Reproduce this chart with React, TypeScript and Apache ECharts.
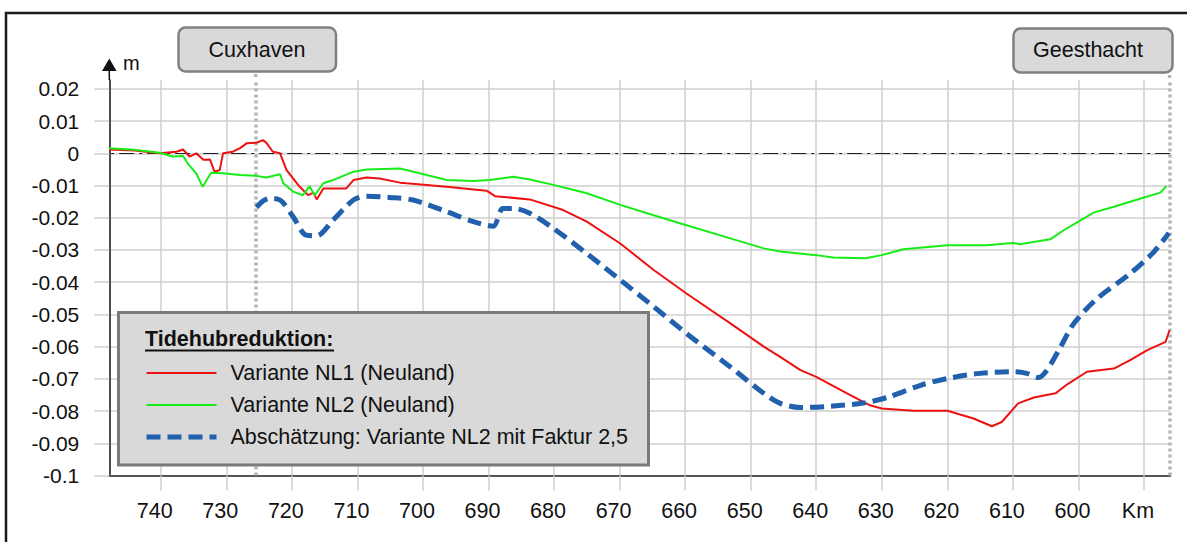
import React, { useEffect, useRef } from "react";
import * as echarts from "echarts";

// ---- data (km, metres) ----
const kmTicks = [740, 730, 720, 710, 700, 690, 680, 670, 660, 650, 640, 630, 620, 610, 600, 590];
const yTicks = [-0.1, -0.09, -0.08, -0.07, -0.06, -0.05, -0.04, -0.03, -0.02, -0.01, 0, 0.01, 0.02];

const seriesNames = [
  "Variante NL1 (Neuland)",
  "Variante NL2 (Neuland)",
  "Abschätzung: Variante NL2 mit Faktur 2,5",
];

const nl1: [number, number][] = [
  [747.9, 0.0012], [744, 0.0009], [740.2, 0], [737.6, 0.0005], [736.6, 0.0012], [735.6, -0.001],
  [734.6, 0], [733.5, -0.002], [732.5, -0.0019], [731.8, -0.0057], [731, -0.0052], [730.5, 0],
  [729, 0.0005], [727.9, 0.0016], [726.9, 0.0031], [725.4, 0.0033], [724.4, 0.0041], [723.9, 0.0033],
  [722.9, 0.0005], [721.8, 0], [720.8, -0.0052], [718.8, -0.0104], [717.5, -0.013], [716.7, -0.0122],
  [716.2, -0.0143], [715.2, -0.0109], [713.7, -0.0109], [711.7, -0.0109], [710.6, -0.0083],
  [708.6, -0.0075], [706.6, -0.0078], [703.5, -0.0091], [702.5, -0.0093], [696.4, -0.0104],
  [690.3, -0.0116], [689, -0.0133], [683.7, -0.0143], [678.6, -0.0176], [675, -0.0212],
  [669.9, -0.028], [664.8, -0.0362], [659.8, -0.0435], [653.1, -0.0528], [648, -0.06],
  [645.5, -0.0632], [642.4, -0.0673], [640, -0.0694], [635.3, -0.0745], [631.8, -0.0782],
  [630, -0.0792], [625.2, -0.0799], [620, -0.0799], [616, -0.0823], [613.2, -0.0847],
  [611.7, -0.0834], [609.2, -0.0776], [606.8, -0.0758], [603.5, -0.0745], [601.7, -0.0717],
  [598.7, -0.0678], [594.6, -0.0668], [592.1, -0.0642], [589.5, -0.0611], [586.7, -0.0585],
  [586.1, -0.0549],
];

const nl2: [number, number][] = [
  [747.9, 0.0016], [744, 0.0011], [740.2, 0.0002], [738.2, -0.001], [736.6, -0.0008], [735.9, -0.0031],
  [734.6, -0.0062], [733.6, -0.0104], [733, -0.0083], [732.3, -0.006], [730.5, -0.0062],
  [727.9, -0.0067], [725.4, -0.007], [723.9, -0.0075], [721.8, -0.0065], [721.3, -0.0093],
  [719.8, -0.0119], [718.3, -0.013], [717.3, -0.0102], [716.5, -0.013], [715.2, -0.0093],
  [713.7, -0.0083], [710.6, -0.0057], [708.6, -0.005], [703.5, -0.0047], [700.5, -0.0062],
  [696.4, -0.0083], [692.3, -0.0086], [689.8, -0.0083], [686.2, -0.0073], [683.7, -0.0081],
  [680.1, -0.0098], [675, -0.0124], [669.9, -0.016], [664.8, -0.0192], [659.8, -0.0223],
  [653.1, -0.0264], [648, -0.0295], [645.5, -0.0305], [640, -0.0316], [637.4, -0.0323],
  [632.5, -0.0326], [630, -0.0316], [626.7, -0.0298], [620, -0.0285], [614, -0.0285],
  [610, -0.0278], [608.9, -0.0282], [604.3, -0.0267], [602.2, -0.0238], [600, -0.0212],
  [597.7, -0.0184], [594.6, -0.0166], [590, -0.0137], [587.5, -0.0122], [586.6, -0.0102],
];

const estimate: [number, number][] = [
  [725.4, -0.0168], [724.4, -0.0148], [723.4, -0.014], [721.8, -0.0145], [719.8, -0.0197],
  [717.8, -0.0254], [716.2, -0.0256], [713.7, -0.0207], [710.6, -0.0145], [708.6, -0.0133],
  [705.1, -0.0137], [701.5, -0.0145], [696.4, -0.0181], [692.3, -0.0212], [689.3, -0.0226],
  [687.8, -0.0171], [686.2, -0.0171], [683.7, -0.0186], [680.1, -0.0233], [675, -0.0311],
  [669.9, -0.0393], [664.8, -0.0476], [659.8, -0.0559], [653.1, -0.0663], [648, -0.0745],
  [645.5, -0.0776], [642.4, -0.0789], [637.8, -0.0785], [632.8, -0.0775], [629.2, -0.0758],
  [624.1, -0.072], [620, -0.0699], [615, -0.0683], [609.9, -0.0678], [607.9, -0.0683],
  [606.1, -0.0696], [604.8, -0.0673], [602.7, -0.06], [600.7, -0.0528], [597.1, -0.045],
  [592.1, -0.0373], [588.5, -0.0306], [586.2, -0.0247],
];

const stations = [
  { name: "Cuxhaven", km: 725.5 },
  { name: "Geesthacht", km: 586.1 },
];

const FONT = "'Liberation Sans', Arial, Helvetica, sans-serif";

export default function App() {
  const ref = useRef<HTMLDivElement>(null);

  useEffect(() => {
    if (!ref.current) return;
    const chart = echarts.init(ref.current, undefined, { renderer: "svg" });
    const gridLeft = 109.3;
    const gridTop = 80;
    const gridW = 1060.9;
    const gridH = 395.5;
    const gridColor = "#cfcfcf";

    chart.setOption({
      animation: false,
      backgroundColor: "#ffffff",
      textStyle: { fontFamily: FONT },
      grid: { left: gridLeft, top: gridTop, width: gridW, height: gridH, containLabel: false },
      xAxis: {
        type: "value",
        inverse: true,
        min: 586,
        max: 747.85,
        axisLine: { onZero: false, lineStyle: { color: "#555555", width: 2 } },
        axisTick: { show: true, length: 15, lineStyle: { color: gridColor, width: 1.5 }, customValues: kmTicks },
        splitLine: { show: true, lineStyle: { color: gridColor, width: 1.5 } },
        axisLabel: {
          customValues: kmTicks,
          margin: 24,
          fontSize: 21.5,
          color: "#111",
          fontFamily: FONT,
          padding: [0, 12, 0, 0],
          formatter: (v: number) => (v === 590 ? "Km" : String(v)),
        },
      },
      yAxis: {
        type: "value",
        min: -0.1,
        max: 0.02276,
        axisLine: { show: true, onZero: false, lineStyle: { color: "#111111", width: 1.5 } },
        axisTick: { show: true, length: 15, lineStyle: { color: gridColor, width: 1.5 }, customValues: yTicks },
        splitLine: { show: true, lineStyle: { color: gridColor, width: 1.5 } },
        axisLabel: {
          customValues: yTicks,
          margin: 30,
          fontSize: 21,
          color: "#111",
          fontFamily: FONT,
          formatter: (v: number) => String(Math.round(v * 100) / 100),
        },
      },
      legend: {
        data: seriesNames,
        orient: "vertical",
        left: 144,
        top: 362,
        itemWidth: 70,
        itemHeight: 21,
        itemGap: 10,
        padding: 0,
        z: 20,
        selectedMode: false,
        itemStyle: { opacity: 0 },
        lineStyle: { width: "inherit", type: "inherit" },
        textStyle: { fontSize: 21.5, color: "#111", fontFamily: FONT, padding: [0, 0, 0, 9] },
      },
      series: [
        {
          name: seriesNames[0],
          type: "line",
          data: nl1,
          showSymbol: false,
          symbol: "none",
          lineStyle: { color: "#ee1111", width: 2 },
          itemStyle: { color: "#ee1111" },
          z: 3,
          markLine: {
            silent: true,
            symbol: "none",
            label: { show: false },
            z: 1,
            data: [
              { yAxis: 0, lineStyle: { color: "#222222", width: 1.2, type: [15, 5, 3, 5] } },
              ...stations.map((s) => ({
                xAxis: s.km,
                lineStyle: { color: "#b5b5b5", width: 3.5, type: [3, 3] },
              })),
            ],
          },
        },
        {
          name: seriesNames[1],
          type: "line",
          data: nl2,
          showSymbol: false,
          symbol: "none",
          lineStyle: { color: "#18ec18", width: 2 },
          itemStyle: { color: "#18ec18" },
          z: 3,
        },
        {
          name: seriesNames[2],
          type: "line",
          data: estimate,
          showSymbol: false,
          symbol: "none",
          smooth: 0.3,
          lineStyle: { color: "#2160ad", width: 5, type: [14, 7] },
          itemStyle: { color: "#2160ad" },
          z: 4,
        },
      ],
      graphic: [
        // outer frame
        {
          type: "rect",
          silent: true,
          z: 30,
          shape: { x: 6, y: 13, width: 1200, height: 560 },
          style: { fill: "none", stroke: "#1a1a1a", lineWidth: 2.5 },
        },
        // station boxes
        {
          type: "rect",
          silent: true,
          z: 12,
          shape: { x: 178.5, y: 27.5, width: 157.5, height: 44, r: 7 },
          style: { fill: "#d9d9d9", stroke: "#808080", lineWidth: 2.5 },
        },
        {
          type: "text",
          silent: true,
          z: 13,
          x: 257,
          y: 49.5,
          style: { text: stations[0].name, fill: "#111", font: `21.5px ${FONT}`, align: "center", verticalAlign: "middle" },
        },
        {
          type: "rect",
          silent: true,
          z: 12,
          shape: { x: 1013.5, y: 28.5, width: 159, height: 44, r: 7 },
          style: { fill: "#d9d9d9", stroke: "#808080", lineWidth: 2.5 },
        },
        {
          type: "text",
          silent: true,
          z: 13,
          x: 1088,
          y: 50,
          style: { text: stations[1].name, fill: "#111", font: `21.5px ${FONT}`, align: "center", verticalAlign: "middle" },
        },
        // dotted extensions above the plot
        {
          type: "line",
          silent: true,
          z: 5,
          shape: { x1: 255.7, y1: 74, x2: 255.7, y2: 80 },
          style: { stroke: "#b5b5b5", lineWidth: 3.5, lineDash: [3, 3] },
        },
        {
          type: "line",
          silent: true,
          z: 5,
          shape: { x1: 1169.6, y1: 75, x2: 1169.6, y2: 80 },
          style: { stroke: "#b5b5b5", lineWidth: 3.5, lineDash: [3, 3] },
        },
        // y axis extension + arrow
        {
          type: "line",
          silent: true,
          z: 5,
          shape: { x1: gridLeft, y1: gridTop, x2: gridLeft, y2: 68 },
          style: { stroke: "#111", lineWidth: 1.5 },
        },
        {
          type: "polygon",
          silent: true,
          z: 5,
          shape: { points: [[gridLeft, 58.5], [gridLeft - 7.3, 71], [gridLeft + 7.3, 71]] },
          style: { fill: "#111" },
        },
        {
          type: "text",
          silent: true,
          z: 5,
          x: 123,
          y: 63,
          style: { text: "m", fill: "#111", font: `20px ${FONT}`, align: "left", verticalAlign: "middle" },
        },
        // legend box
        {
          type: "rect",
          silent: true,
          z: 10,
          shape: { x: 118.5, y: 312.5, width: 530, height: 152.5 },
          style: { fill: "#d9d9d9", stroke: "#7a7a7a", lineWidth: 3 },
        },
        {
          type: "text",
          silent: true,
          z: 21,
          x: 145,
          y: 339,
          style: { text: "Tidehubreduktion:", fill: "#111", font: `bold 21.5px ${FONT}`, align: "left", verticalAlign: "middle" },
        },
        {
          type: "line",
          silent: true,
          z: 21,
          shape: { x1: 145, y1: 350.5, x2: 334, y2: 350.5 },
          style: { stroke: "#111", lineWidth: 2 },
        },
      ],
    });

    return () => chart.dispose();
  }, []);

  return (
    <div
      ref={ref}
      style={{ position: "fixed", left: 0, top: 0, width: 1187, height: 542, background: "#fff" }}
    />
  );
}
